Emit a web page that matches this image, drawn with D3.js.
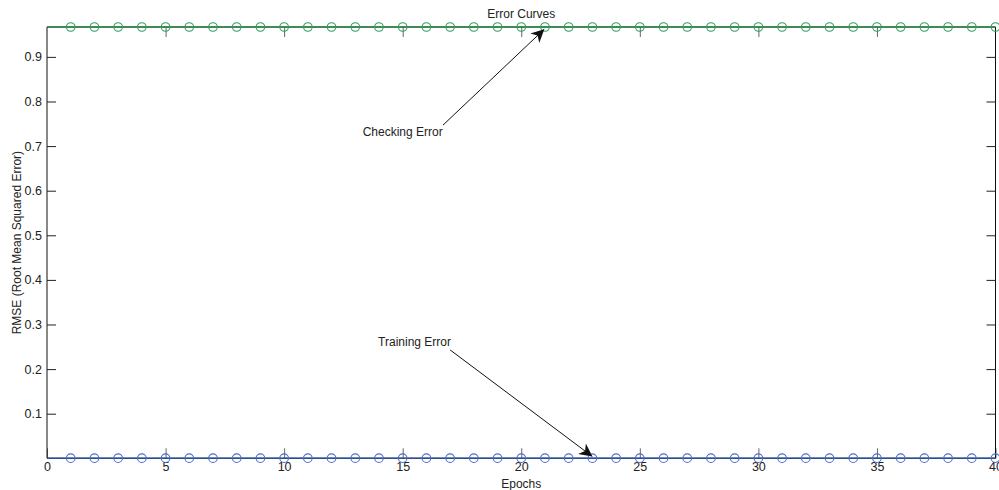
<!DOCTYPE html>
<html lang="en">
  <head>
    <meta charset="utf-8">
    <script src="https://d3js.org/d3.v7.min.js"></script>
    <style>
      body {margin: 0; background: white;}
      text {font-family: "Liberation Sans", Arial, sans-serif; fill: #222;}
    </style>
  </head>
  <body>
    <script type="text/javascript">
      // epochs and error values
      const epochs = [1, 2, 3, 4, 5, 6, 7, 8, 9, 10, 11, 12, 13, 14, 15, 16, 17, 18, 19, 20,
                      21, 22, 23, 24, 25, 26, 27, 28, 29, 30, 31, 32, 33, 34, 35, 36, 37, 38, 39, 40];
      const checkingError = [0.967, 0.967, 0.967, 0.967, 0.967, 0.967, 0.967, 0.967, 0.967, 0.967,
                             0.967, 0.967, 0.967, 0.967, 0.967, 0.967, 0.967, 0.967, 0.967, 0.967,
                             0.967, 0.967, 0.967, 0.967, 0.967, 0.967, 0.967, 0.967, 0.967, 0.967,
                             0.967, 0.967, 0.967, 0.967, 0.967, 0.967, 0.967, 0.967, 0.967, 0.967];
      const trainingError = [0.0003, 0.0003, 0.0003, 0.0003, 0.0003, 0.0003, 0.0003, 0.0003, 0.0003, 0.0003,
                             0.0003, 0.0003, 0.0003, 0.0003, 0.0003, 0.0003, 0.0003, 0.0003, 0.0003, 0.0003,
                             0.0003, 0.0003, 0.0003, 0.0003, 0.0003, 0.0003, 0.0003, 0.0003, 0.0003, 0.0003,
                             0.0003, 0.0003, 0.0003, 0.0003, 0.0003, 0.0003, 0.0003, 0.0003, 0.0003, 0.0003];
      const xTicks = [0, 5, 10, 15, 20, 25, 30, 35, 40];
      const yTicks = [0.1, 0.2, 0.3, 0.4, 0.5, 0.6, 0.7, 0.8, 0.9];

      // annotations: label position, arrow tail and arrow tip, in data units
      const notes = [
        {text: "Checking Error", tx: 15.0, ty: 0.723, fx: 16.7, fy: 0.747, x: 20.97, y: 0.962},
        {text: "Training Error", tx: 15.5, ty: 0.252, fx: 17.0, fy: 0.243, x: 23, y: 0.004}
      ];

      const w = 999;
      const h = 490;
      const mLeft = 47, mRight = 995.5, mTop = 27, mBottom = 458.3;

      var svg = d3.select("body")
            .append("svg")
            .attr("width", w)
            .attr("height", h);

      var xScale = d3.scaleLinear().domain([0, 40]).range([mLeft, mRight]);
      var yScale = d3.scaleLinear().domain([0, 0.967]).range([mBottom, mTop]);

      // arrow head
      svg.append("defs").append("marker")
          .attr("id", "head")
          .attr("viewBox", "0 0 10 10")
          .attr("refX", 10).attr("refY", 5)
          .attr("markerWidth", 13).attr("markerHeight", 13)
          .attr("markerUnits", "userSpaceOnUse")
          .attr("orient", "auto")
        .append("path")
          .attr("d", "M0,0 L10,5 L0,10 L3,5 Z")
          .attr("fill", "#111");

      // box edges: top grey, bottom black
      svg.append("line").attr("x1", mLeft).attr("x2", mRight).attr("y1", mTop).attr("y2", mTop)
          .attr("stroke", "#999").attr("stroke-width", 1.5);
      svg.append("line").attr("x1", mLeft).attr("x2", mRight).attr("y1", mBottom).attr("y2", mBottom)
          .attr("stroke", "#111").attr("stroke-width", 1.2);

      // x ticks (bottom, pointing up; top, pointing down)
      svg.append("g")
          .attr("transform", "translate(0," + mBottom + ")")
          .call(d3.axisBottom(xScale).tickValues(xTicks).tickSizeInner(-10).tickSizeOuter(0).tickPadding(4))
          .call(g => g.select(".domain").remove())
          .call(g => g.selectAll("line").attr("stroke", "#666"))
          .call(g => g.selectAll("text").attr("font-size", 12.5).attr("fill", "#222"));
      svg.append("g")
          .attr("transform", "translate(0," + mTop + ")")
          .call(d3.axisTop(xScale).tickValues(xTicks.slice(1, -1)).tickSizeInner(-10).tickSizeOuter(0).tickFormat(""))
          .call(g => g.select(".domain").remove())
          .call(g => g.selectAll("line").attr("stroke", "#666"));

      // y ticks (left, pointing right; right, pointing left)
      svg.append("g")
          .attr("transform", "translate(" + mLeft + ",0)")
          .call(d3.axisLeft(yScale).tickValues(yTicks).tickSizeInner(-9).tickSizeOuter(0).tickPadding(5))
          .call(g => g.select(".domain").attr("d", "M0," + mBottom + "V" + mTop).attr("stroke", "#111"))
          .call(g => g.selectAll("line").attr("stroke", "#222"))
          .call(g => g.selectAll("text").attr("font-size", 12.5).attr("fill", "#222"));
      svg.append("g")
          .attr("transform", "translate(" + mRight + ",0)")
          .call(d3.axisRight(yScale).tickValues(yTicks).tickSizeInner(-9).tickSizeOuter(0).tickFormat(""))
          .call(g => g.select(".domain").attr("d", "M0," + mBottom + "V" + mTop).attr("stroke", "#111"))
          .call(g => g.selectAll("line").attr("stroke", "#222"));

      // lines
      var line = d3.line().x(d => xScale(d[0])).y(d => yScale(d[1]));
      var series = [
        {values: trainingError, color: "#2b4c9b", marker: "#4a6cc4"},
        {values: checkingError, color: "#1c7a3c", marker: "#2e9e5a"}
      ];
      series.forEach(function(s) {
        var pts = [[0, s.values[0]]].concat(epochs.map((e, i) => [e, s.values[i]]));
        svg.append("path")
            .datum(pts)
            .attr("d", line)
            .attr("fill", "none")
            .attr("stroke", s.color)
            .attr("stroke-width", 1.5);
        svg.append("g").selectAll("circle")
            .data(epochs)
            .enter()
            .append("circle")
            .attr("cx", d => xScale(d))
            .attr("cy", (d, i) => yScale(s.values[i]))
            .attr("r", 4.3)
            .attr("fill", "none")
            .attr("stroke", s.marker)
            .attr("stroke-width", 1.1);
      });

      // annotations
      notes.forEach(function(n) {
        svg.append("line")
            .attr("x1", xScale(n.fx)).attr("y1", yScale(n.fy))
            .attr("x2", xScale(n.x)).attr("y2", yScale(n.y))
            .attr("stroke", "#111")
            .attr("stroke-width", 1)
            .attr("marker-end", "url(#head)");
        svg.append("text")
            .attr("x", xScale(n.tx)).attr("y", yScale(n.ty))
            .attr("text-anchor", "middle")
            .attr("font-size", 12)
            .text(n.text);
      });

      // titles
      svg.append("text")
          .attr("x", (mLeft + mRight) / 2).attr("y", 18)
          .attr("text-anchor", "middle")
          .attr("font-size", 12)
          .text("Error Curves");
      svg.append("text")
          .attr("x", (mLeft + mRight) / 2).attr("y", 488)
          .attr("text-anchor", "middle")
          .attr("font-size", 12)
          .text("Epochs");
      svg.append("text")
          .attr("transform", "translate(21," + ((mTop + mBottom) / 2) + ") rotate(-90)")
          .attr("text-anchor", "middle")
          .attr("font-size", 12)
          .text("RMSE (Root Mean Squared Error)");
    </script>
  </body>
</html>
